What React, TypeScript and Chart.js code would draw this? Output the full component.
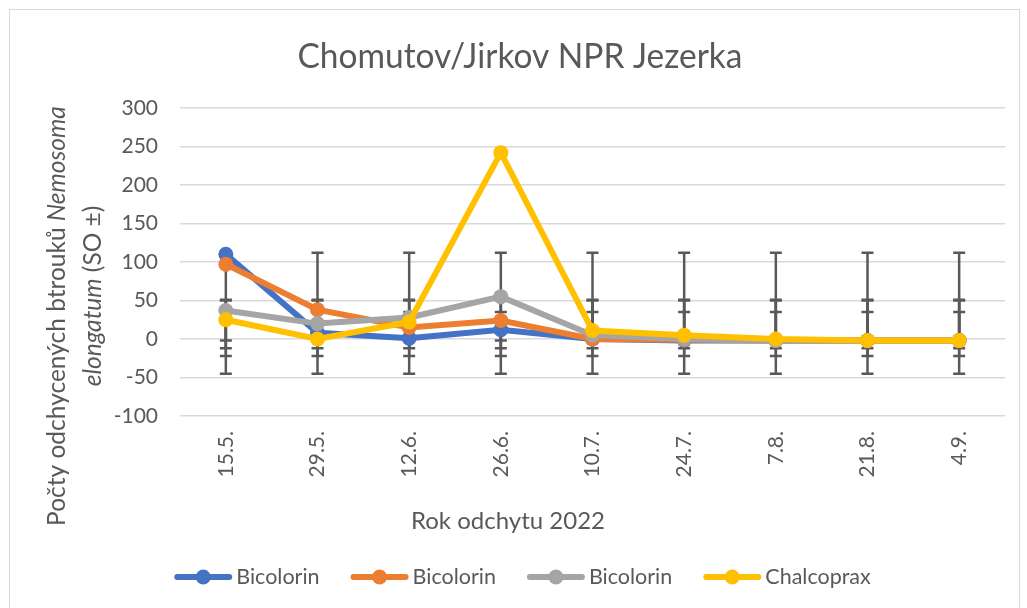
import React, { useEffect, useRef } from 'react';
import { Chart, registerables } from 'chart.js';

Chart.register(...registerables);

const categories = ['15.5.', '29.5.', '12.6.', '26.6.', '10.7.', '24.7.', '7.8.', '21.8.', '4.9.'];
const bicolorin1 = [110, 8, 1, 12, 0, -2, -2, -2, -2];
const bicolorin2 = [97, 38, 15, 24, 0, -1, -2, -2, -2];
const bicolorin3 = [37, 20, 28, 55, 5, 0, -2, -2, -2];
const chalcoprax = [25, 0, 22, 242, 11, 5, 0, -2, -2];

const seriesNames = ['Bicolorin', 'Bicolorin', 'Bicolorin', 'Chalcoprax'];
const seriesColors = ['#4472C4', '#ED7D31', '#A5A5A5', '#FFC000'];
// error bar extents (SO ±) per series
const errLow = [-22, -12, -2, -45];
const errHigh = [50, 51, 35, 112];

const yMin = -100;
const yMax = 300;
const yStep = 50;

const titleText = 'Chomutov/Jirkov NPR Jezerka';
const xTitle = 'Rok odchytu 2022';
const yTitleLine1 = [
  { text: 'Počty odchycených btrouků ', italic: false },
  { text: 'Nemosoma', italic: true },
];
const yTitleLine2 = [
  { text: 'elongatum', italic: true },
  { text: ' (SO ±)', italic: false },
];

const TEXT = '#595959';
const FONT = 'Lato, "Open Sans", sans-serif';

export default function App() {
  const ref = useRef<HTMLCanvasElement>(null);

  useEffect(() => {
    const canvas = ref.current!;
    const seriesData = [bicolorin1, bicolorin2, bicolorin3, chalcoprax];

    const errorBars = {
      id: 'errorBars',
      beforeDatasetsDraw(chart: any) {
        const ctx = chart.ctx;
        const xs = chart.scales.x;
        const ys = chart.scales.y;
        ctx.save();
        ctx.strokeStyle = '#595959';
        ctx.lineWidth = 2.5;
        for (let s = 0; s < seriesData.length; s++) {
          for (let i = 0; i < categories.length; i++) {
            const px = xs.getPixelForValue(i);
            const lo = ys.getPixelForValue(errLow[s]);
            const hi = ys.getPixelForValue(errHigh[s]);
            ctx.beginPath();
            ctx.moveTo(px, lo);
            ctx.lineTo(px, hi);
            ctx.moveTo(px - 6, lo);
            ctx.lineTo(px + 6, lo);
            ctx.moveTo(px - 6, hi);
            ctx.lineTo(px + 6, hi);
            ctx.stroke();
          }
        }
        ctx.restore();
      },
    };

    const drawMixed = (ctx: CanvasRenderingContext2D, parts: { text: string; italic: boolean }[], cx: number, cy: number, size: number) => {
      ctx.save();
      ctx.translate(cx, cy);
      ctx.rotate(-Math.PI / 2);
      ctx.textBaseline = 'middle';
      ctx.textAlign = 'left';
      let total = 0;
      const widths = parts.map((p) => {
        ctx.font = `${p.italic ? 'italic ' : ''}${size}px ${FONT}`;
        const w = ctx.measureText(p.text).width;
        total += w;
        return w;
      });
      let x = -total / 2;
      parts.forEach((p, k) => {
        ctx.font = `${p.italic ? 'italic ' : ''}${size}px ${FONT}`;
        ctx.fillText(p.text, x, 0);
        x += widths[k];
      });
      ctx.restore();
    };

    const decor = {
      id: 'decor',
      afterDraw(chart: any) {
        const ctx: CanvasRenderingContext2D = chart.ctx;
        ctx.save();
        ctx.strokeStyle = '#d9d9d9';
        ctx.lineWidth = 1;
        ctx.strokeRect(9.5, 9.5, 1010, 600);

        ctx.fillStyle = TEXT;
        ctx.textAlign = 'center';
        ctx.textBaseline = 'middle';
        ctx.font = `34px ${FONT}`;
        ctx.fillText(titleText, 520, 57, 445);

        ctx.font = `24px ${FONT}`;
        ctx.fillText(xTitle, 508, 521);

        drawMixed(ctx, yTitleLine1, 57, 316, 24.5);
        drawMixed(ctx, yTitleLine2, 93, 296, 24.5);

        // legend
        ctx.font = `21.5px ${FONT}`;
        const iconW = 58;
        const gapIconText = 4;
        const gapItems = 31;
        const widths = seriesNames.map((n) => ctx.measureText(n).width);
        let total = 0;
        widths.forEach((w, k) => {
          total += iconW + gapIconText + w + (k < widths.length - 1 ? gapItems : 0);
        });
        let x = 522.5 - total / 2;
        const ly = 577;
        seriesNames.forEach((n, k) => {
          ctx.strokeStyle = seriesColors[k];
          ctx.lineWidth = 6;
          ctx.lineCap = 'round';
          ctx.beginPath();
          ctx.moveTo(x + 3, ly);
          ctx.lineTo(x + iconW - 3, ly);
          ctx.stroke();
          ctx.fillStyle = seriesColors[k];
          ctx.beginPath();
          ctx.arc(x + iconW / 2, ly, 7.5, 0, Math.PI * 2);
          ctx.fill();
          ctx.fillStyle = TEXT;
          ctx.textAlign = 'left';
          ctx.fillText(n, x + iconW + gapIconText, ly);
          x += iconW + gapIconText + widths[k] + gapItems;
        });
        ctx.restore();
      },
    };

    const chart = new Chart(canvas, {
      type: 'line',
      data: {
        labels: categories,
        datasets: seriesData.map((d, k) => ({
          label: seriesNames[k],
          data: d,
          borderColor: seriesColors[k],
          backgroundColor: seriesColors[k],
          borderWidth: 6,
          pointRadius: 7.5,
          pointHoverRadius: 7.5,
          pointBorderWidth: 0,
          tension: 0,
          order: seriesData.length - k,
        })),
      },
      options: {
        responsive: false,
        animation: false,
        devicePixelRatio: 1,
        layout: { padding: { top: 108, left: 0, right: 22, bottom: 0 } },
        plugins: {
          legend: { display: false },
          title: { display: false },
          tooltip: { enabled: false },
        },
        scales: {
          x: {
            type: 'category',
            offset: true,
            grid: { display: false, drawTicks: false },
            border: { display: false },
            ticks: {
              color: TEXT,
              font: { family: FONT, size: 21 },
              minRotation: 90,
              maxRotation: 90,
              autoSkip: false,
              padding: 15,
            },
            afterFit(scale: any) {
              scale.height = 192;
            },
          },
          y: {
            min: yMin,
            max: yMax,
            grid: { color: '#d9d9d9', lineWidth: 1.5, drawTicks: false },
            border: { display: false },
            ticks: {
              stepSize: yStep,
              color: TEXT,
              font: { family: FONT, size: 21 },
              padding: 22,
            },
            afterFit(scale: any) {
              scale.width = 180;
            },
          },
        },
      },
      plugins: [errorBars, decor],
    });
    return () => chart.destroy();
  }, []);

  return (
    <div style={{ position: 'absolute', left: 0, top: 0, width: 1027, height: 608, background: '#fff' }}>
      <canvas ref={ref} width={1027} height={608} />
    </div>
  );
}
